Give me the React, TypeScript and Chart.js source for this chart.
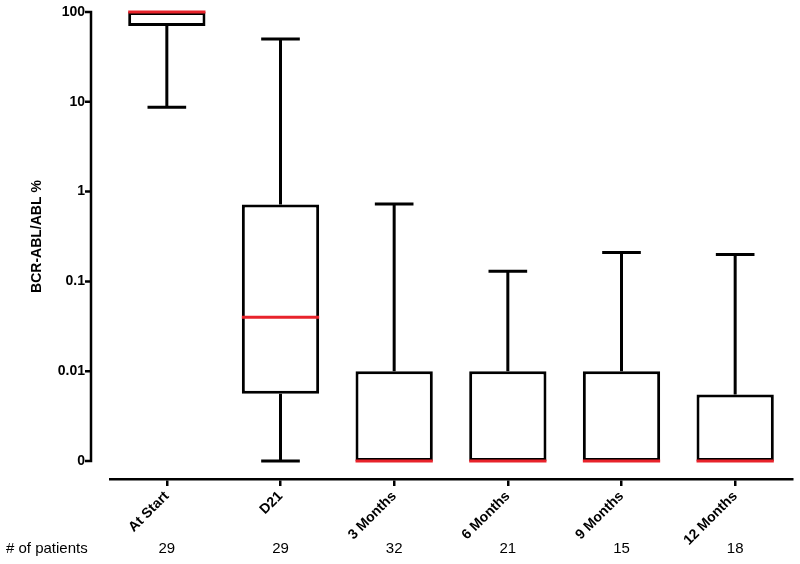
import React, { useEffect, useRef } from "react";
import { Chart, registerables } from "chart.js";

Chart.register(...registerables);

const categories = ["At Start", "D21", "3 Months", "6 Months", "9 Months", "12 Months"];
const minVals = [8.7, 0.001, 0.001, 0.001, 0.001, 0.001];
const q1Vals = [70, 0.0056, 0.001, 0.001, 0.001, 0.001];
const medianVals = [100, 0.04, 0.001, 0.001, 0.001, 0.001];
const q3Vals = [100, 0.72, 0.01, 0.01, 0.01, 0.0055];
const maxVals = [100, 50, 0.73, 0.13, 0.21, 0.2];
const patients = [29, 29, 32, 21, 15, 18];
const yTicks = [0.001, 0.01, 0.1, 1, 10, 100];
const yTickLabels = ["0", "0.01", "0.1", "1", "10", "100"];
const yTitle = "BCR-ABL/ABL %";
const patientsLabel = "# of patients";

const FONT = "'Liberation Sans', Arial, sans-serif";

const boxPlugin = {
  id: "boxExtras",
  afterDatasetsDraw(chart: any) {
    const ctx = chart.ctx;
    const xs = chart.scales.x;
    const ys = chart.scales.y;
    const meta = chart.getDatasetMeta(0);
    ctx.save();
    ctx.strokeStyle = "#000";
    ctx.lineWidth = 3;
    ctx.lineCap = "butt";
    categories.forEach((_, i) => {
      const bar = meta.data[i];
      const xc = xs.getPixelForValue(i);
      const half = bar.width / 2;
      const cap = half / 2;
      const yMax = ys.getPixelForValue(maxVals[i]);
      const yQ3 = ys.getPixelForValue(q3Vals[i]);
      const yMin = ys.getPixelForValue(minVals[i]);
      const yQ1 = ys.getPixelForValue(q1Vals[i]);
      if (maxVals[i] > q3Vals[i]) {
        ctx.beginPath();
        ctx.moveTo(xc, yQ3);
        ctx.lineTo(xc, yMax);
        ctx.moveTo(xc - cap, yMax);
        ctx.lineTo(xc + cap, yMax);
        ctx.stroke();
      }
      if (minVals[i] < q1Vals[i]) {
        ctx.beginPath();
        ctx.moveTo(xc, yQ1);
        ctx.lineTo(xc, yMin);
        ctx.moveTo(xc - cap, yMin);
        ctx.lineTo(xc + cap, yMin);
        ctx.stroke();
      }
    });
    ctx.strokeStyle = "#e8232b";
    ctx.lineWidth = 3;
    categories.forEach((_, i) => {
      const bar = meta.data[i];
      const xc = xs.getPixelForValue(i);
      const half = bar.width / 2;
      const ym = ys.getPixelForValue(medianVals[i]);
      ctx.beginPath();
      ctx.moveTo(xc - half, ym);
      ctx.lineTo(xc + half, ym);
      ctx.stroke();
    });
    ctx.restore();
  },
  afterDraw(chart: any) {
    const ctx = chart.ctx;
    const xs = chart.scales.x;
    const ys = chart.scales.y;
    const area = chart.chartArea;
    const axisX = area.left - 19;
    const yTop = ys.getPixelForValue(yTicks[yTicks.length - 1]);
    const yBot = ys.getPixelForValue(yTicks[0]);
    ctx.save();
    ctx.strokeStyle = "#000";
    ctx.lineWidth = 2.5;
    ctx.beginPath();
    ctx.moveTo(axisX, yTop - 1.25);
    ctx.lineTo(axisX, yBot + 1.25);
    yTicks.forEach((v) => {
      const y = ys.getPixelForValue(v);
      ctx.moveTo(axisX - 6, y);
      ctx.lineTo(axisX, y);
    });
    ctx.stroke();
    ctx.fillStyle = "#000";
    ctx.font = `bold 14px ${FONT}`;
    ctx.textAlign = "center";
    ctx.textBaseline = "middle";
    ctx.save();
    ctx.translate(37, (yTop + yBot) / 2);
    ctx.rotate(-Math.PI / 2);
    ctx.fillText(yTitle, 0, 0);
    ctx.restore();
    ctx.font = `15px ${FONT}`;
    ctx.textAlign = "left";
    ctx.fillText(patientsLabel, 6, 549);
    ctx.textAlign = "center";
    patients.forEach((n, i) => {
      ctx.fillText(String(n), xs.getPixelForValue(i), 549);
    });
    ctx.restore();
  },
};

export default function App() {
  const ref = useRef<HTMLCanvasElement | null>(null);
  useEffect(() => {
    if (!ref.current) return;
    const chart = new Chart(ref.current, {
      type: "bar",
      data: {
        labels: categories,
        datasets: [
          {
            data: categories.map((_, i) => [q1Vals[i], q3Vals[i]]) as any,
            backgroundColor: "#ffffff",
            borderColor: "#000000",
            borderWidth: 3,
            borderSkipped: false,
            barPercentage: 0.68,
            categoryPercentage: 1,
          },
        ],
      },
      options: {
        animation: false,
        responsive: false,
        layout: { padding: { top: 12, right: 8, left: 0, bottom: 0 } },
        plugins: { legend: { display: false }, tooltip: { enabled: false } },
        scales: {
          x: {
            type: "category",
            grid: {
              display: true,
              drawOnChartArea: false,
              drawTicks: true,
              tickLength: 7,
              offset: false,
              color: "#000",
              lineWidth: 2.5,
            },
            border: { display: true, color: "#000", width: 2.5 },
            ticks: {
              minRotation: 45,
              maxRotation: 45,
              color: "#000",
              padding: 2,
              font: { family: FONT, size: 14, weight: "bold" },
            },
            afterFit: (s: any) => {
              s.height = 85;
              s.paddingLeft = 0;
              s.paddingRight = 0;
            },
          },
          y: {
            type: "logarithmic",
            min: Math.pow(10, -3.2),
            max: 100,
            bounds: "data",
            grid: { display: false, drawTicks: false },
            border: { display: false },
            afterBuildTicks: (s: any) => {
              s.ticks = yTicks.map((v) => ({ value: v }));
            },
            ticks: {
              autoSkip: false,
              color: "#000",
              padding: 25,
              font: { family: FONT, size: 14, weight: "bold" },
              callback: (v: any) => {
                const idx = yTicks.findIndex((t) => Math.abs(t - Number(v)) < t * 1e-6);
                return idx >= 0 ? yTickLabels[idx] : "";
              },
            },
            afterFit: (s: any) => {
              s.width = 110;
              s.paddingTop = 0;
              s.paddingBottom = 0;
            },
          },
        },
      } as any,
      plugins: [boxPlugin],
    });
    return () => chart.destroy();
  }, []);
  return (
    <div style={{ position: "absolute", left: 0, top: 0, width: 800, height: 564, background: "#fff" }}>
      <canvas ref={ref} width={800} height={564} style={{ display: "block" }} />
    </div>
  );
}
